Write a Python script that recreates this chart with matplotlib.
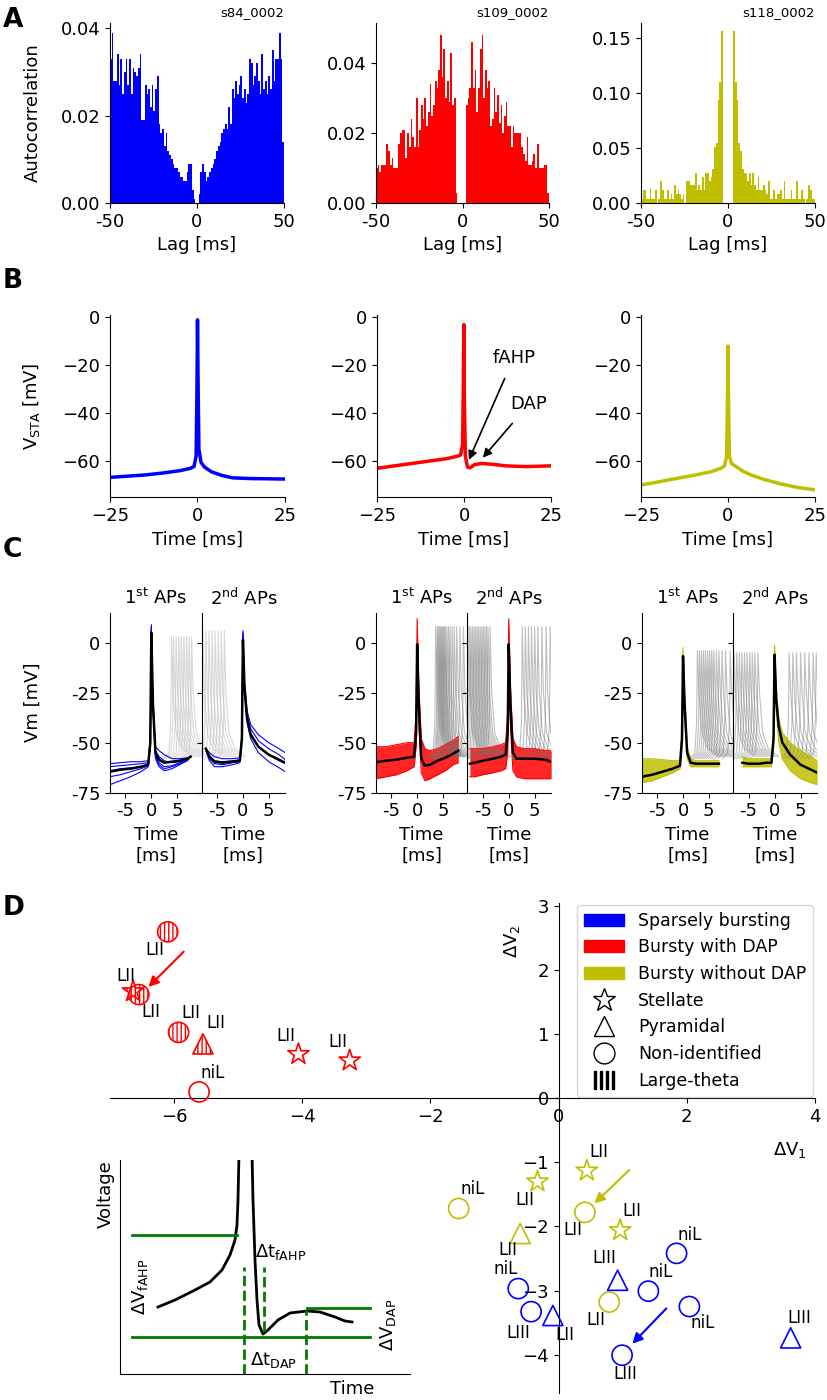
import numpy as np
import matplotlib
matplotlib.use("Agg")
import matplotlib.pyplot as plt
from matplotlib.patches import Patch
from matplotlib.lines import Line2D

plt.rcParams['font.family'] = ['DejaVu Sans']
plt.rcParams['font.size'] = 13

W, H = 828, 1400

# ---------------- data: panel A (autocorrelation, 1 ms bins from -50 to 49)
lags = np.arange(-50, 50)
acorr_s84 = [0.033, 0.039, 0.028, 0.028, 0.034, 0.027, 0.033, 0.025, 0.030, 0.033,
             0.027, 0.033, 0.025, 0.031, 0.030, 0.029, 0.031, 0.034, 0.019, 0.019,
             0.027, 0.025, 0.026, 0.022, 0.027, 0.021, 0.026, 0.029, 0.018, 0.016,
             0.017, 0.013, 0.016, 0.012, 0.011, 0.010, 0.009, 0.008, 0.008, 0.007,
             0.006, 0.006, 0.005, 0.005, 0.007, 0.009, 0.009, 0.003, 0.001, 0.000,
             0.000, 0.002, 0.007, 0.009, 0.007, 0.005, 0.006, 0.007, 0.008, 0.009,
             0.010, 0.012, 0.013, 0.014, 0.016, 0.017, 0.018, 0.017, 0.022, 0.018,
             0.026, 0.024, 0.028, 0.025, 0.027, 0.029, 0.024, 0.026, 0.023, 0.025,
             0.033, 0.032, 0.027, 0.029, 0.032, 0.028, 0.025, 0.034, 0.026, 0.028,
             0.025, 0.029, 0.026, 0.035, 0.028, 0.033, 0.033, 0.039, 0.033, 0.014]
acorr_s109 = [0.010, 0.011, 0.009, 0.011, 0.011, 0.011, 0.017, 0.015, 0.011, 0.013,
              0.010, 0.010, 0.010, 0.017, 0.020, 0.021, 0.021, 0.013, 0.020, 0.016,
              0.024, 0.019, 0.016, 0.030, 0.016, 0.021, 0.028, 0.024, 0.030, 0.022,
              0.026, 0.034, 0.025, 0.028, 0.035, 0.033, 0.038, 0.048, 0.036, 0.044,
              0.030, 0.035, 0.029, 0.043, 0.028, 0.030, 0.003, 0.000, 0.000, 0.000,
              0.000, 0.000, 0.028, 0.030, 0.033, 0.046, 0.033, 0.038, 0.026, 0.033,
              0.044, 0.048, 0.030, 0.038, 0.033, 0.035, 0.022, 0.024, 0.033, 0.026,
              0.031, 0.023, 0.028, 0.020, 0.025, 0.029, 0.022, 0.022, 0.016, 0.022,
              0.020, 0.020, 0.020, 0.020, 0.016, 0.014, 0.012, 0.019, 0.011, 0.011,
              0.012, 0.014, 0.010, 0.017, 0.010, 0.010, 0.010, 0.011, 0.011, 0.003]
acorr_s118 = [0.004, 0.012, 0.012, 0.004, 0.004, 0.014, 0.004, 0.004, 0.012, 0.000,
              0.004, 0.020, 0.012, 0.004, 0.004, 0.012, 0.004, 0.008, 0.004, 0.016,
              0.008, 0.012, 0.008, 0.004, 0.008, 0.000, 0.020, 0.020, 0.016, 0.016,
              0.016, 0.027, 0.012, 0.016, 0.012, 0.024, 0.012, 0.027, 0.027, 0.020,
              0.024, 0.031, 0.051, 0.055, 0.094, 0.110, 0.157, 0.000, 0.000, 0.000,
              0.000, 0.000, 0.000, 0.157, 0.110, 0.094, 0.055, 0.047, 0.031, 0.027,
              0.027, 0.020, 0.027, 0.016, 0.027, 0.016, 0.012, 0.024, 0.012, 0.012,
              0.016, 0.012, 0.008, 0.020, 0.004, 0.004, 0.012, 0.004, 0.008, 0.008,
              0.012, 0.004, 0.020, 0.004, 0.004, 0.004, 0.012, 0.004, 0.004, 0.020,
              0.004, 0.004, 0.012, 0.004, 0.000, 0.004, 0.016, 0.012, 0.004, 0.004]
cell_names = ['s84_0002', 's109_0002', 's118_0002']
group_colors = ['b', 'r', 'y']

# ---------------- data: panel B (spike-triggered average)
sta_t_blue = [-25, -20, -15, -10, -5, -2, -1, -0.4, -0.15, 0, 0.15, 0.4, 1, 2, 4, 7, 10, 15, 20, 25]
sta_v_blue = [-66.8, -66.3, -65.8, -65, -64, -63, -62.3, -58, -30, -1, -25, -55, -60.5,
              -62.5, -64.5, -66, -67, -67.3, -67.4, -67.5]
sta_t_red = [-25, -20, -15, -10, -5, -2, -1, -0.4, -0.2, -0.05, 0.1, 0.4, 1, 1.8, 3, 5, 8, 12, 18, 25]
sta_v_red = [-63, -62, -61, -60, -59, -58, -57.5, -53, -30, -3, -35, -58, -62.5, -62.8,
             -61.5, -61, -61.3, -62, -62.3, -62]
sta_t_yel = [-25, -20, -15, -10, -5, -2, -1, -0.4, -0.15, 0, 0.15, 0.4, 1, 2, 4, 7, 10, 15, 20, 25]
sta_v_yel = [-70, -68.7, -67.3, -66, -64.5, -63, -62, -58, -35, -12, -35, -58, -61, -62,
             -64, -66, -67.5, -69.5, -71, -72]

# ---------------- data: panel C (1st / 2nd APs of bursts)
# sparsely bursting: individual traces
c_t_b1 = [-8, -6, -4, -2, -0.6, -0.2, 0, 0.3, 0.8, 1.5, 2.5, 4, 5.5, 7, 7.6]
c_mean_b1 = [-64.5, -63.5, -63, -62, -61, -50, 5, -30, -55, -58.5, -60, -59.5, -59, -58, -57]
c_tr_b1 = [[-60.5, -60, -59.5, -59.5, -59, -48, 9, -28, -52, -54, -56, -58, -58, -57.5, -57],
           [-62, -61.5, -61, -60.5, -60, -49, 8, -29, -54, -57, -59, -60, -59.5, -58, -57],
           [-64, -63, -62.5, -62, -61, -50, 7, -30, -56, -60, -62, -61.5, -60, -58.5, -57],
           [-67, -66, -64.5, -63, -61.5, -51, 6, -31, -57, -61, -63, -62, -60.5, -58.5, -57],
           [-71, -69, -67, -64.5, -62, -52, 5, -32, -58, -62, -64, -63, -61, -59, -57]]
c_t_b2 = [-7.2, -6.5, -5.5, -4, -2, -0.6, -0.2, 0, 0.3, 0.8, 1.5, 3, 5, 7, 8.2]
c_mean_b2 = [-53, -57, -59.5, -60, -59.5, -59, -48, 1.5, -22, -38, -46, -52, -56, -58.5, -60]
c_tr_b2 = [[-53, -55, -57, -58, -58, -57.5, -46, 6, -20, -34, -41, -46, -50, -53, -55],
           [-53, -56.5, -59, -59.5, -59, -58.5, -47, 5, -21, -36, -43, -49, -53, -56, -58.5],
           [-53, -58, -60.5, -61, -60, -59.5, -48, 4, -22, -38, -45, -52, -56, -59, -60.5],
           [-54, -59, -62, -62, -61, -60, -49, 3, -24, -40, -48, -55, -59.5, -62.5, -64.5]]
# bursty cells: trace envelopes
c_t_r1 = [-8, -6, -4, -2, -0.6, -0.2, 0, 0.3, 0.8, 1.5, 2.5, 4, 5.5, 7, 8]
c_mean_r1 = [-59.7, -59, -58.5, -57.5, -57, -45, -0.8, -30, -58, -61.5, -61, -59, -57.5, -55.5, -54]
c_lo_r1 = [-68, -67, -66, -64, -62, -52, -10, -40, -65, -69, -68, -66, -64, -61, -60]
c_hi_r1 = [-52, -52, -51, -50, -50, -35, 12, -20, -48, -53, -54, -53, -51, -49, -47]
c_t_r2 = [-7.5, -6.5, -5, -3, -1.5, -0.6, -0.2, 0, 0.3, 0.8, 1.5, 3, 5, 7, 8.2]
c_mean_r2 = [-60.5, -60, -59, -58, -57, -56, -45, -0.8, -30, -55, -58, -58, -58, -58.5, -59.5]
c_lo_r2 = [-67, -67, -66, -65, -64, -63, -55, -10, -40, -64, -67, -68, -68, -68, -68]
c_hi_r2 = [-53, -53, -53, -52, -51, -50, -35, 12, -20, -48, -52, -53, -53, -54, -54]
c_t_y1 = [-8, -6, -4, -2, -0.6, -0.2, 0, 0.3, 0.8, 1.5, 2.5, 4, 5.5, 7]
c_mean_y1 = [-67, -66, -64.5, -63, -61.5, -48, -6.7, -30, -55, -60, -60.5, -60.5, -60.5, -60.5]
c_lo_y1 = [-70, -69, -67, -65, -63, -52, -10, -35, -58, -62, -62, -62, -62, -62]
c_hi_y1 = [-58, -58, -58.5, -59, -59, -45, -2.5, -25, -52, -58, -59, -59, -59, -59]
c_t_y2 = [-6.2, -5, -3, -1.5, -0.6, -0.2, 0, 0.3, 0.8, 1.5, 3, 5, 7, 8.2]
c_mean_y2 = [-60, -60.5, -60.5, -60, -60, -48, -6, -28, -42, -50, -56, -61, -63.5, -65]
c_lo_y2 = [-62, -62, -62, -62, -62, -52, -10, -33, -50, -58, -64, -68, -70, -71]
c_hi_y2 = [-57, -58, -58, -58, -58, -45, -1.3, -22, -38, -45, -50, -54, -57, -59]
# neighbouring spikes (grey), spike times in ms
gray_b1 = [3.9, 4.3, 4.8, 5.3, 5.8, 6.3, 6.8, 7.3, 7.8]
gray_b2 = [-7.8, -7.2, -6.6, -6.0, -5.4, -4.8, -4.2, -3.6]
gray_r1 = [3.6, 3.9, 4.1, 4.3, 4.5, 4.7, 4.9, 5.1, 5.3, 5.5, 5.8, 6.1, 6.4, 6.8, 7.2, 7.7, 8.3, 9.0]
gray_r2 = [-7.9, -7.6, -7.3, -7.0, -6.7, -6.4, -6.1, -5.8, -5.5, -5.2, -4.9, -4.6, -4.3, -4.0,
           -3.6, 2.6, 3.2, 3.8, 4.4, 5.0, 5.6, 6.4, 7.2, 8.0]
gray_y1 = [2.8, 3.2, 3.6, 4.0, 4.4, 4.8, 5.2, 5.6, 6.0, 6.5, 7.0, 7.6, 8.3, 9.2]
gray_y2 = [-7.8, -7.3, -6.8, -6.3, -5.8, -5.3, -4.8, -4.3, -3.8, -3.2, 2.8, 3.5, 4.2, 5.0,
           5.8, 6.6, 7.4, 8.0]
# shape of one grey spike relative to its peak
spk_dt = [-1.5, -0.5, -0.15, 0, 0.3, 0.9, 2.0, 4.0]
spk_dv = [-58, -55, -40, 0, -25, -45, -53, -57]

# ---------------- data: panel D (dV1 / dV2 scatter)
red_dv1 = [-6.10, -6.64, -6.55, -5.93, -5.55, -5.61, -4.06, -3.26]
red_dv2 = [2.60, 1.67, 1.62, 1.03, 0.85, 0.10, 0.69, 0.59]
red_kind = ['o', '*', 'o', 'o', '^', 'o', '*', '*']
red_theta = [True, True, True, True, True, False, False, False]
red_layer = ['LII', 'LII', 'LII', 'LII', 'LII', 'niL', 'LII', 'LII']
red_lab_x = [-6.30, -6.75, -6.37, -5.74, -5.35, -5.40, -4.26, -3.45]
red_lab_y = [2.32, 1.91, 1.35, 1.33, 1.18, 0.40, 0.98, 0.88]

yel_dv1 = [0.44, -0.33, -1.56, 0.41, 0.96, -0.60, 0.79]
yel_dv2 = [-1.13, -1.30, -1.72, -1.78, -2.06, -2.11, -3.18]
yel_kind = ['*', '*', 'o', 'o', '*', '^', 'o']
yel_layer = ['LII', 'LII', 'niL', 'LII', 'LII', 'LII', 'LII']
yel_lab_x = [0.63, -0.52, -1.34, 0.22, 1.15, -0.79, 0.58]
yel_lab_y = [-0.83, -1.59, -1.41, -2.06, -1.76, -2.37, -3.46]

blue_dv1 = [1.84, 0.92, 1.40, -0.63, 2.04, -0.43, -0.09, 3.62, 0.99]
blue_dv2 = [-2.42, -2.84, -3.01, -2.97, -3.25, -3.33, -3.39, -3.74, -4.01]
blue_kind = ['o', '^', 'o', 'o', 'o', 'o', '^', '^', 'o']
blue_layer = ['niL', 'LIII', 'niL', 'niL', 'niL', 'LIII', 'LII', 'LIII', 'LIII']
blue_lab_x = [2.04, 0.71, 1.60, -0.83, 2.25, -0.63, 0.10, 3.76, 1.04]
blue_lab_y = [-2.14, -2.50, -2.71, -2.66, -3.51, -3.67, -3.70, -3.43, -4.31]

# arrows marking the example cells: (from, to)
arrows_D = {'r': ((-5.85, 2.29), (-6.40, 1.74)),
            'y': ((1.10, -1.12), (0.56, -1.64)),
            'b': ((1.68, -3.28), (1.15, -3.83))}

# schematic inset (arbitrary units)
sch_t = [3.8, 5.5, 7.5, 9.0, 10.2, 11.0, 11.5, 11.7, 11.8, 11.9, 13.2, 13.3, 13.5, 13.7,
         13.9, 14.3, 14.8, 15.8, 17.0, 18.7, 20.0, 21.5, 22.5, 23.2]
sch_v = [6.7, 7.4, 8.4, 9.2, 10.4, 11.9, 13.4, 14.9, 17.4, 22, 22, 17.4, 11.4, 7.4,
         4.9, 4.0, 4.4, 5.4, 6.1, 6.3, 6.2, 5.7, 5.3, 5.2]


def rect(x0, y0, x1, y1):
    return [x0 / W, 1 - y1 / H, (x1 - x0) / W, (y1 - y0) / H]


def clean(ax):
    ax.spines['top'].set_visible(False)
    ax.spines['right'].set_visible(False)


def left_label(ax, text, x0, x1):
    # put the y label so that its right edge sits at x = 42 px
    ax.set_ylabel(text)
    ax.yaxis.set_label_coords((42 - x0) / (x1 - x0), 0.5)


fig = plt.figure(figsize=(W / 100, H / 100), dpi=100)

# ---------------- A
a_cols = [(110, 284), (376, 549), (641, 815)]
a_data = [acorr_s84, acorr_s109, acorr_s118]
a_ylim = [0.0412, 0.0515, 0.164]
a_yt = [[0, 0.02, 0.04], [0, 0.02, 0.04], [0, 0.05, 0.10, 0.15]]
for i in range(3):
    ax = fig.add_axes(rect(a_cols[i][0], 23, a_cols[i][1], 203))
    ax.bar(lags, a_data[i], width=1.0, align='edge', color=group_colors[i], linewidth=0)
    ax.set_xlim(-50, 50)
    ax.set_ylim(0, a_ylim[i])
    ax.set_xticks([-50, 0, 50], ['-50', '0', '50'])
    ax.set_yticks(a_yt[i], ['%.2f' % v for v in a_yt[i]])
    ax.set_xlabel('Lag [ms]')
    ax.set_title(cell_names[i], loc='right', fontsize=9.5, pad=5)
    clean(ax)
    if i == 0:
        left_label(ax, 'Autocorrelation', *a_cols[i])

# ---------------- B
b_cols = [(110, 285), (377, 551), (641, 815)]
b_t = [sta_t_blue, sta_t_red, sta_t_yel]
b_v = [sta_v_blue, sta_v_red, sta_v_yel]
for i in range(3):
    ax = fig.add_axes(rect(b_cols[i][0], 315, b_cols[i][1], 497))
    ax.plot(b_t[i], b_v[i], color=group_colors[i], lw=2.5)
    ax.set_xlim(-25, 25)
    ax.set_ylim(-75, 1)
    ax.set_xticks([-25, 0, 25])
    ax.set_yticks([0, -20, -40, -60])
    ax.set_xlabel('Time [ms]')
    clean(ax)
    if i == 0:
        left_label(ax, r'V$_{\mathrm{STA}}$ [mV]', *b_cols[i])
    if i == 1:
        ax.annotate('fAHP', xy=(1.4, -59.5), xytext=(14.3, -16.9), ha='center', va='center',
                    arrowprops=dict(arrowstyle='-|>', color='k', lw=1.2, shrinkA=7, shrinkB=0))
        ax.annotate('DAP', xy=(5.4, -58.6), xytext=(18.6, -36.3), ha='center', va='center',
                    arrowprops=dict(arrowstyle='-|>', color='k', lw=1.2, shrinkA=7, shrinkB=0))


def gray_spikes(ax, times, peak, col, alpha, lw):
    for ts in times:
        vv = [peak if d == 0 else d for d in spk_dv]
        ax.plot([ts + d for d in spk_dt], vv, color=col, alpha=alpha, lw=lw)


c_cols = [(110, 201.7, 285), (376, 467.3, 551), (642, 733, 817)]
c_xlim1 = (-8, 9.75)
c_xlim2 = (-8, 8.16)
for i in range(3):
    x0, xm, x1 = c_cols[i]
    ax1 = fig.add_axes(rect(x0, 612.7, xm, 792.7))
    ax2 = fig.add_axes(rect(xm, 612.7, x1, 792.7))
    col = group_colors[i]
    if i == 0:
        gray_spikes(ax1, gray_b1, 3, '0.75', 0.6, 0.8)
        gray_spikes(ax2, gray_b2, 6, '0.75', 0.6, 0.8)
        for tr in c_tr_b1:
            ax1.plot(c_t_b1, tr, color=col, lw=0.8)
        for tr in c_tr_b2:
            ax2.plot(c_t_b2, tr, color=col, lw=0.8)
        ax1.plot(c_t_b1, c_mean_b1, color='k', lw=1.8)
        ax2.plot(c_t_b2, c_mean_b2, color='k', lw=1.8)
    else:
        if i == 1:
            parts = [(ax1, gray_r1, 8, c_t_r1, c_lo_r1, c_hi_r1, c_mean_r1),
                     (ax2, gray_r2, 8, c_t_r2, c_lo_r2, c_hi_r2, c_mean_r2)]
        else:
            parts = [(ax1, gray_y1, -4, c_t_y1, c_lo_y1, c_hi_y1, c_mean_y1),
                     (ax2, gray_y2, -5, c_t_y2, c_lo_y2, c_hi_y2, c_mean_y2)]
        for ax, gt, pk, t, lo, hi, mean in parts:
            gray_spikes(ax, gt, pk, '0.45', 0.45, 0.8)
            ax.fill_between(t, lo, hi, color=col, lw=0, alpha=0.85)
            ax.plot(t, lo, color=col, lw=0.8)
            ax.plot(t, hi, color=col, lw=0.8)
            ax.plot(t, mean, color='k', lw=1.8)
    for ax, xl in ((ax1, c_xlim1), (ax2, c_xlim2)):
        ax.set_xlim(*xl)
        ax.set_ylim(-75, 15)
        ax.set_xticks([-5, 0, 5], ['-5', '0', '5'])
        ax.set_xlabel('Time\n[ms]')
        clean(ax)
    ax1.set_yticks([0, -25, -50, -75], ['0', '-25', '-50', '-75'])
    ax2.set_yticks([0, -25, -50, -75], [])
    ax1.set_title(r'1$^{\mathrm{st}}$ APs', fontsize=13)
    ax2.set_title(r'2$^{\mathrm{nd}}$ APs', fontsize=13)
    if i == 0:
        left_label(ax1, 'Vm [mV]', x0, xm)

# ---------------- D
axD = fig.add_axes(rect(110, 903, 815, 1393))
axD.set_xlim(-7, 4)
axD.set_ylim(-4.6, 3.05)
axD.spines['left'].set_position(('data', 0))
axD.spines['bottom'].set_position(('data', 0))
clean(axD)
axD.set_xticks([-6, -4, -2, 0, 2, 4])
axD.set_yticks([-4, -3, -2, -1, 0, 1, 2, 3])

groups = [('r', red_dv1, red_dv2, red_kind, red_theta, red_layer, red_lab_x, red_lab_y),
          ('y', yel_dv1, yel_dv2, yel_kind, [False] * len(yel_dv1), yel_layer, yel_lab_x, yel_lab_y),
          ('b', blue_dv1, blue_dv2, blue_kind, [False] * len(blue_dv1), blue_layer, blue_lab_x, blue_lab_y)]
for c, xs, ys, kinds, theta, layers, lx, ly in groups:
    for j in range(len(xs)):
        axD.scatter(xs[j], ys[j], s=210 if kinds[j] != '*' else 260, marker=kinds[j],
                    facecolors='none', edgecolors=c, linewidths=1.2,
                    hatch='||||' if theta[j] else None, zorder=3)
        axD.text(lx[j], ly[j], layers[j], ha='center', va='center', fontsize=12)
    (sx, sy), (ex, ey) = arrows_D[c]
    axD.annotate('', xy=(ex, ey), xytext=(sx, sy),
                 arrowprops=dict(arrowstyle='-|>', color=c, lw=1.5, mutation_scale=15,
                                 shrinkA=0, shrinkB=0))

axD.text(-0.72, 2.45, r'$\Delta$V$_2$', rotation=90, ha='center', va='center', fontsize=13)
axD.text(3.6, -0.8, r'$\Delta$V$_1$', ha='center', va='center', fontsize=13)

handles = [Patch(color='b'), Patch(color='r'), Patch(color='y'),
           Line2D([], [], ls='', marker='*', mfc='none', mec='k', ms=17, mew=1.0),
           Line2D([], [], ls='', marker='^', mfc='none', mec='k', ms=14, mew=1.0),
           Line2D([], [], ls='', marker='o', mfc='none', mec='k', ms=15, mew=1.0),
           Line2D([], [], ls='', marker='$||||$', color='k', ms=14)]
labels = ['Sparsely bursting', 'Bursty with DAP', 'Bursty without DAP', 'Stellate',
          'Pyramidal', 'Non-identified', 'Large-theta']
axD.legend(handles, labels, loc='upper right', bbox_to_anchor=(1.0, 1.0), borderaxespad=0.1,
           fontsize=12.5, handlelength=2.3)

# schematic inset
axI = fig.add_axes(rect(120, 1160, 410, 1374))
axI.patch.set_alpha(0)
axI.plot(sch_t, sch_v, color='k', lw=2)
green = '#007a00'
axI.plot([1.2, 11.7], [13.9, 13.9], color=green, lw=2)
axI.plot([1.2, 25.0], [3.7, 3.7], color=green, lw=2)
axI.plot([18.7, 25.0], [6.6, 6.6], color=green, lw=2)
axI.plot([12.4, 12.4], [0, 10.7], color=green, lw=2, ls='--')
axI.plot([14.4, 14.4], [4.3, 10.7], color=green, lw=2, ls='--')
axI.plot([18.6, 18.6], [0, 6.4], color=green, lw=2, ls='--')
axI.text(2.0, 8.7, r'$\Delta$V$_{\mathrm{fAHP}}$', rotation=90, ha='center', va='center', fontsize=13)
axI.text(13.5, 12.2, r'$\Delta$t$_{\mathrm{fAHP}}$', ha='left', va='center', fontsize=13)
axI.text(13.0, 1.4, r'$\Delta$t$_{\mathrm{DAP}}$', ha='left', va='center', fontsize=13)
axI.text(26.8, 4.9, r'$\Delta$V$_{\mathrm{DAP}}$', rotation=90, ha='center', va='center', fontsize=13)
axI.set_xlim(0, 29)
axI.set_ylim(0, 21.4)
axI.set_xticks([])
axI.set_yticks([])
clean(axI)
axI.set_xlabel('Time')
axI.xaxis.set_label_coords(0.80, -0.03)
axI.set_ylabel('Voltage', loc='top')

# panel letters
for letter, yb in (('A', 27), ('B', 288), ('C', 557), ('D', 915)):
    fig.text(3 / W, 1 - yb / H, letter, fontsize=19, fontweight='bold', va='baseline')

fig.savefig('out.png', dpi=100)
